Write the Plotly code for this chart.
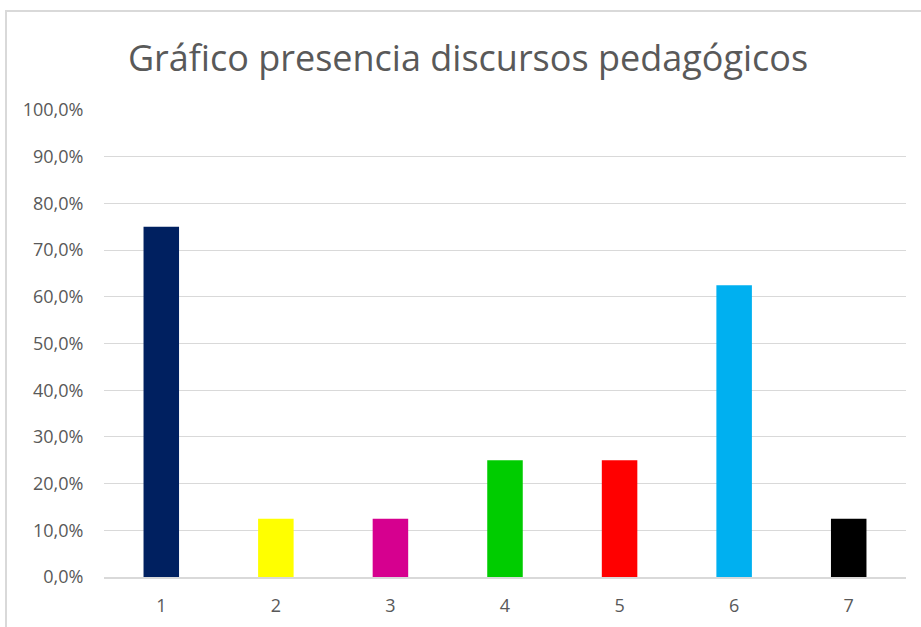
"""
Bar chart: presence of pedagogical discourses.
"""
import plotly.graph_objects as go

categories = ["1", "2", "3", "4", "5", "6", "7"]
presence = [0.75, 0.125, 0.125, 0.25, 0.25, 0.625, 0.125]
tick_values = [i / 10 for i in range(11)]

bar_colors = ["#002060", "#FFFF00", "#D6008F", "#00CC00", "#FF0000", "#00B0F0", "#000000"]

W, H = 921, 627
L, R, T, B = 104, 15, 110, 50
grid = "#D9D9D9"
text_color = "#595959"

fig = go.Figure()
fig.add_trace(go.Bar(
    x=categories,
    y=presence,
    marker=dict(color=bar_colors, line=dict(width=0)),
    hoverinfo="x+y",
))

plot_w = W - L - R
plot_h = H - T - B

# outer chart border (like the spreadsheet chart frame)
fig.add_shape(
    type="rect", xref="paper", yref="paper",
    x0=(6 - L) / plot_w, x1=(W + 20 - L) / plot_w,
    y0=-(B + 20) / plot_h, y1=1 + (T - 11) / plot_h,
    line=dict(color=grid, width=2), fillcolor="rgba(0,0,0,0)", layer="below",
)

fig.update_layout(
    width=W, height=H,
    margin=dict(l=L, r=R, t=T, b=B, autoexpand=False),
    paper_bgcolor="white", plot_bgcolor="white",
    separators=", ",
    bargap=0.69,
    showlegend=False,
    font=dict(family="'Open Sans', sans-serif", color=text_color, size=18),
    title=dict(
        text="Gráfico presencia discursos pedagógicos",
        x=468 / W, xanchor="center",
        y=1 - 58 / H, yanchor="middle",
        font=dict(size=36, color=text_color),
    ),
    yaxis=dict(
        range=[0, 1],
        tickvals=tick_values,
        tickformat=".1%",
        showgrid=True, gridcolor=grid, gridwidth=1,
        zeroline=False, showline=False,
        ticks="outside", ticklen=16, tickcolor="rgba(0,0,0,0)",
        automargin=False,
        fixedrange=True,
    ),
    xaxis=dict(
        showline=True, linecolor=grid, linewidth=2,
        ticks="outside", ticklen=11, tickcolor="rgba(0,0,0,0)",
        automargin=False,
        fixedrange=True,
    ),
)

# drop the browser's default body margin so the figure sits at the page corner
fig.write_html(
    "out.html",
    config={"displayModeBar": False},
    post_script="document.body.style.margin='0';",
)
